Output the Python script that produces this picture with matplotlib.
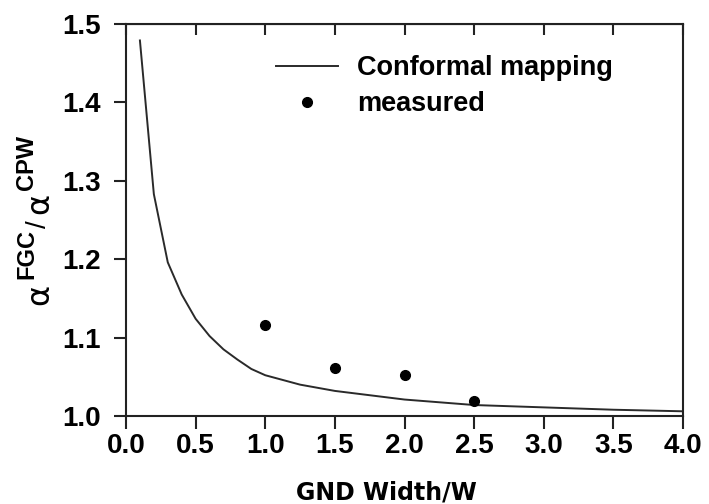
import matplotlib
matplotlib.use("Agg")
import matplotlib.pyplot as plt

plt.rcParams['font.family'] = ['Liberation Sans', 'DejaVu Sans']
plt.rcParams['font.weight'] = 'bold'

# Conformal mapping curve
x_curve = [0.1, 0.2, 0.3, 0.4, 0.5, 0.6, 0.7, 0.8, 0.9, 1.0, 1.25, 1.5,
           2.0, 2.5, 3.0, 3.5, 4.0]
y_curve = [1.479, 1.283, 1.196, 1.155, 1.124, 1.102, 1.085, 1.072, 1.060,
           1.052, 1.040, 1.032, 1.021, 1.014, 1.011, 1.008, 1.006]

# Measured points
x_meas = [1.0, 1.5, 2.0, 2.5]
y_meas = [1.116, 1.061, 1.052, 1.019]

x_ticks = [0.0, 0.5, 1.0, 1.5, 2.0, 2.5, 3.0, 3.5, 4.0]
y_ticks = [1.0, 1.1, 1.2, 1.3, 1.4, 1.5]

W, H = 709, 504
fig = plt.figure(figsize=(W/100, H/100), dpi=100)
ax = fig.add_axes([126/W, 88/H, 557/W, 392/H])

ax.plot(x_curve, y_curve, color='#2a2a2a', lw=1.4, label='Conformal mapping')
ax.plot(x_meas, y_meas, 'o', color='black', ms=7, label='measured')

ax.set_xlim(0, 4.0)
ax.set_ylim(1.0, 1.5)
ax.set_xticks(x_ticks)
ax.set_yticks(y_ticks)
ax.set_xticklabels([f'{v:.1f}' for v in x_ticks])
ax.set_yticklabels([f'{v:.1f}' for v in y_ticks])

for s in ax.spines.values():
    s.set_linewidth(1.5)
    s.set_color('#222222')

ax.tick_params(axis='both', direction='out', length=9, width=1.5,
               labelsize=20, color='#222222')
ax.tick_params(axis='x', pad=3)
ax.tick_params(axis='y', pad=9)

sec = ax.secondary_xaxis('top')
sec.set_xticks(x_ticks)
sec.tick_params(direction='in', length=8, width=1.5, labeltop=False, color='#222222')

ax.set_xlabel('GND Width/W', fontfamily='DejaVu Sans', fontweight='bold', fontsize=17)
ax.xaxis.set_label_coords((386-126)/557, (416-480)/392)

# y label composed of pieces (rotated)
def ylab(px, py, s, size, weight, family):
    fig.text(px/W, 1 - py/H, s, rotation=90, rotation_mode='anchor',
             ha='center', va='baseline', fontsize=size, fontweight=weight,
             fontfamily=family)

ylab(48, 294, 'α', 23, 'normal', 'DejaVu Sans')
ylab(33, 254, 'FGC', 17, 'bold', 'Liberation Sans')
ylab(46, 224, '/', 20, 'normal', 'Liberation Sans')
ylab(48, 203, 'α', 23, 'normal', 'DejaVu Sans')
ylab(33, 162, 'CPW', 17, 'bold', 'Liberation Sans')

leg = ax.legend(loc='upper left', bbox_to_anchor=((276-126)/557, (416-55)/392),
                frameon=False, fontsize=19.5, handlelength=2.3, handletextpad=0.7,
                borderpad=0, borderaxespad=0, labelspacing=0.38, markerscale=1.0)

fig.savefig('out.png', dpi=100)
